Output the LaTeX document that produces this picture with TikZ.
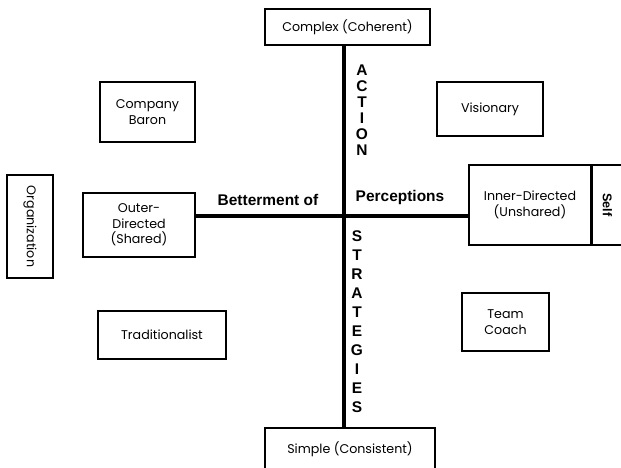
\documentclass[tikz,border=0pt]{standalone}
\usepackage{fontspec}
\setmainfont{Poppins}
\newfontfamily\labelfont{Liberation Sans}
\usetikzlibrary{positioning, calc}

\begin{document}
\begin{tikzpicture}[
    x=0.025cm, y=-0.025cm,
    box/.style={rectangle, draw=black, line width=0.9pt, fill=white, align=center, inner sep=2pt, font=\fontsize{9}{11}\selectfont},
    axis/.style={line width=2.2pt, black},
    axislabel/.style={font=\labelfont\bfseries\fontsize{11}{13}\selectfont},
    letters/.style={font=\labelfont\bfseries\fontsize{11}{#1}\selectfont, align=center, inner sep=0pt}
]
    \useasboundingbox (0,0) rectangle (621,468);

    % Axis ends
    \node[box, minimum width=4.125cm, minimum height=0.9cm] (complex) at (347.5, 27) {Complex (Coherent)};
    \node[box, minimum width=4.25cm, minimum height=1.1cm] (simple) at (350, 450) {\raisebox{4pt}{Simple (Consistent)}};
    \node[box, minimum width=2.8cm, minimum height=1.6cm] (outer) at (139, 225) {Outer-\\Directed\\(Shared)};
    \node[box, minimum width=3.05cm, minimum height=2cm] (inner) at (530, 205) {Inner-Directed\\(Unshared)};
    \node[box, minimum width=0.9cm, minimum height=2cm, anchor=west, font=\labelfont\bfseries\fontsize{9}{10}\selectfont] (self) at (inner.east) {\hspace*{-4pt}\rotatebox{-90}{Self}};
    \node[box, minimum width=1.15cm, minimum height=2.575cm] (org) at (30, 226.5) {\rotatebox{-90}{Organization}};

    % Quadrants
    \node[box, minimum width=2.375cm, minimum height=1.5cm] (baron) at (147.5, 112) {Company\\Baron};
    \node[box, minimum width=2.65cm, minimum height=1.35cm] (visionary) at (490, 109) {Visionary};
    \node[box, minimum width=3.2cm, minimum height=1.2cm] (tradition) at (162, 335) {Traditionalist};
    \node[box, minimum width=2.175cm, minimum height=1.45cm] (coach) at (505.5, 322) {Team\\Coach};

    % Axes
    \coordinate (hub) at (344, 216);
    \draw[axis] (complex.south -| hub) -- (simple.north -| hub);
    \draw[axis] (outer.east |- hub) -- (inner.west |- hub);

    % Labels
    \node[axislabel] (betterment) at (268, 200) {Betterment of};
    \node[axislabel] (perceptions) at (400, 197) {Perceptions};
    \node[letters=11.3] (action) at (362, 110) {A\\C\\T\\I\\O\\N};
    \node[letters=13.5] (strategies) at (357, 322) {S\\T\\R\\A\\T\\E\\G\\I\\E\\S};
\end{tikzpicture}
\end{document}
